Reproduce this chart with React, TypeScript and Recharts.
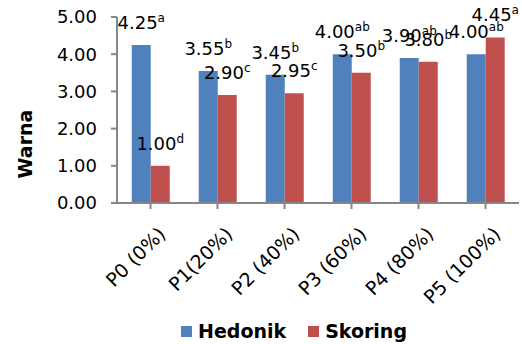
import { BarChart, Bar, XAxis, YAxis, Legend, LabelList } from 'recharts';

const categories = ['P0 (0%)', 'P1(20%)', 'P2 (40%)', 'P3 (60%)', 'P4 (80%)', 'P5 (100%)'];
const hedonik = [4.25, 3.55, 3.45, 4.0, 3.9, 4.0];
const skoring = [1.0, 2.9, 2.95, 3.5, 3.8, 4.45];
const hedonikNotes = ['a', 'b', 'b', 'ab', 'ab', 'ab'];
const skoringNotes = ['d', 'c', 'c', 'b', 'b', 'a'];
const yTicks = [0, 1, 2, 3, 4, 5];

const BLUE = '#4F81BD';
const RED = '#C0504D';
const AXIS = '#868686';
const FONT = 'DejaVu Sans, Verdana, sans-serif';

const data = categories.map((name, i) => ({
  name,
  hedonik: hedonik[i],
  skoring: skoring[i],
}));

function makeLabel(notes: string[]) {
  return (props: any) => {
    const { x, y, width, value, index } = props;
    const cx = Number(x) + Number(width) / 2;
    const by = Number(y) - 16;
    return (
      <text x={cx} y={by} textAnchor="middle" fontFamily={FONT} fontSize={18} fill="#000">
        <tspan>{Number(value).toFixed(2)}</tspan>
        <tspan fontSize={12} dy={-7}>{notes[index]}</tspan>
      </text>
    );
  };
}

function XTick(props: any) {
  const { x, y, payload } = props;
  return (
    <g transform={`translate(${x + 6},${y + 14})`}>
      <text
        transform="rotate(-45)"
        textAnchor="end"
        dominantBaseline="hanging"
        fontFamily={FONT}
        fontSize={19}
        fill="#000"
      >
        {payload.value}
      </text>
    </g>
  );
}

function YTitle(props: any) {
  const { viewBox } = props;
  const cx = viewBox.x + 25;
  const cy = viewBox.y + viewBox.height / 2 + 34;
  return (
    <text
      x={cx}
      y={cy}
      transform={`rotate(-90 ${cx} ${cy})`}
      textAnchor="middle"
      dominantBaseline="central"
      fontFamily={FONT}
      fontSize={19}
      fontWeight="bold"
      fill="#000"
    >
      Warna
    </text>
  );
}

function LegendContent() {
  const items = [
    { label: 'Hedonik', color: BLUE },
    { label: 'Skoring', color: RED },
  ];
  return (
    <div style={{ display: 'flex', justifyContent: 'center', gap: 22, fontFamily: FONT, paddingLeft: 66 }}>
      {items.map((it) => (
        <div key={it.label} style={{ display: 'flex', alignItems: 'center' }}>
          <span style={{ width: 11, height: 11, background: it.color, display: 'inline-block', marginRight: 6 }} />
          <span style={{ fontSize: 19, fontWeight: 'bold', color: '#000' }}>{it.label}</span>
        </div>
      ))}
    </div>
  );
}

export default function App() {
  return (
    <div style={{ position: 'absolute', left: 0, top: 0, width: 522, height: 344, background: '#fff' }}>
      <BarChart
        width={522}
        height={344}
        data={data}
        margin={{ top: 17, right: 3, bottom: 0, left: 0 }}
        barCategoryGap="22%"
        barGap={0}
      >
        <XAxis
          dataKey="name"
          height={121}
          tick={<XTick />}
          tickLine={{ stroke: AXIS, strokeWidth: 2 }}
          axisLine={{ stroke: AXIS, strokeWidth: 2 }}
          tickSize={6}
          interval={0}
          scale="band"
        />
        <YAxis
          width={117}
          domain={[0, 5]}
          ticks={yTicks}
          tickFormatter={(v: number) => v.toFixed(2)}
          tick={{ fill: '#000', fontSize: 18, fontFamily: FONT }}
          tickLine={{ stroke: AXIS, strokeWidth: 2 }}
          axisLine={{ stroke: AXIS, strokeWidth: 2 }}
          tickSize={6}
          tickMargin={14}
          label={<YTitle />}
        />
        <Legend
          content={<LegendContent />}
          wrapperStyle={{ position: 'absolute', left: 0, top: 320, width: 522, height: 20 }}
        />
        <Bar dataKey="hedonik" fill={BLUE} isAnimationActive={false}>
          <LabelList dataKey="hedonik" content={makeLabel(hedonikNotes)} />
        </Bar>
        <Bar dataKey="skoring" fill={RED} isAnimationActive={false}>
          <LabelList dataKey="skoring" content={makeLabel(skoringNotes)} />
        </Bar>
      </BarChart>
    </div>
  );
}
